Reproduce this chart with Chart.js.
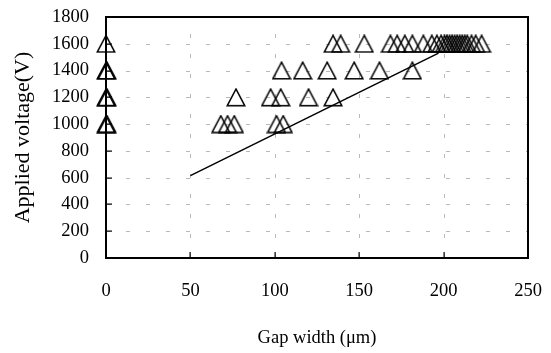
<!DOCTYPE html>
<html><head><meta charset="utf-8">
<script src="https://cdn.jsdelivr.net/npm/chart.js@4/dist/chart.umd.min.js"></script>
<style>html,body{margin:0;padding:0;background:#fff}#c{display:block}</style>
</head><body>
<canvas id="c" width="551" height="353"></canvas>
<script>
// Data
const voltageLevels = [1000, 1200, 1400, 1600];
const gap1000 = [0, 0.6, 68, 72, 76, 101, 105];
const gap1200 = [0, 0.6, 77, 97.5, 103.5, 120, 134.5];
const gap1400 = [0, 0.6, 104, 116.5, 131, 147, 162, 181.5];
const gap1600 = [0, 134.5, 139, 153, 168.5, 172.5, 177, 181.5, 188, 193, 196, 198.5, 200.5, 202, 203.5, 205, 206.5, 208, 209.5, 211, 212.5, 214, 216.5, 219, 222.5];
const fitGap = [50, 197];
const fitVoltage = [615, 1530];
const xTicks = [0, 50, 100, 150, 200, 250];
const yTicks = [0, 200, 400, 600, 800, 1000, 1200, 1400, 1600, 1800];

const rows = [gap1000, gap1200, gap1400, gap1600];
const scatterPts = [];
rows.forEach((r, i) => r.forEach(g => scatterPts.push({x: g, y: voltageLevels[i]})));
const fitPts = fitGap.map((g, i) => ({x: g, y: fitVoltage[i]}));

const tri = document.createElement('canvas');
tri.width = 20; tri.height = 19;
(function(){
  const t = tri.getContext('2d');
  t.strokeStyle = '#000'; t.lineWidth = 1.5;
  t.beginPath(); t.moveTo(10, 1.2); t.lineTo(18.8, 17.8); t.lineTo(1.2, 17.8); t.closePath(); t.stroke();
})();

const serif = "'Liberation Serif', 'Times New Roman', serif";

const grid = {
  id: 'gridDash',
  beforeDatasetsDraw(chart) {
    const {ctx, chartArea: a} = chart;
    const xs = chart.scales.x, ys = chart.scales.y;
    ctx.save();
    ctx.strokeStyle = '#b8b8b8'; ctx.lineWidth = 1; ctx.setLineDash([4, 16]);
    ctx.beginPath();
    xTicks.forEach(v => { const p = Math.round(xs.getPixelForValue(v)) + 0.5; ctx.moveTo(p, a.bottom); ctx.lineTo(p, a.top); });
    ctx.stroke();
    ctx.beginPath();
    yTicks.forEach(v => { const p = Math.round(ys.getPixelForValue(v)) + 0.5; ctx.moveTo(a.left, p); ctx.lineTo(a.right, p); });
    ctx.stroke();
    ctx.restore();
  },
  afterDraw(chart) {
    const {ctx, chartArea: a} = chart;
    const xs = chart.scales.x, ys = chart.scales.y;
    ctx.save();
    ctx.fillStyle = 'rgb(0,0,0)';
    const L = Math.round(a.left), R = Math.round(a.right), T = Math.round(a.top), B = Math.round(a.bottom);
    ctx.fillRect(L - 1, T - 1, R - L + 2, 2);
    ctx.fillRect(L - 1, B - 1, R - L + 2, 2);
    ctx.fillRect(L - 1, T - 1, 2, B - T + 2);
    ctx.fillRect(R - 1, T - 1, 2, B - T + 2);
    xTicks.forEach(v => { const p = Math.round(xs.getPixelForValue(v)); ctx.fillRect(p - 0.5, B - 6, 1.2, 6); });
    yTicks.forEach(v => { const p = Math.round(ys.getPixelForValue(v)); ctx.fillRect(L, p - 0.5, 6, 1.2); });
    ctx.restore();
  }
};

new Chart(document.getElementById('c'), {
  type: 'scatter',
  data: {
    datasets: [
      { type: 'line', data: fitPts, borderColor: '#000', borderWidth: 1.5, pointRadius: 0, fill: false, clip: false, order: 2 },
      { data: scatterPts, pointStyle: tri, pointRadius: 9, showLine: false, clip: false, order: 1 }
    ]
  },
  options: {
    responsive: false, animation: false, devicePixelRatio: 1,
    layout: { padding: { left: 5, right: 23, top: 17, bottom: 0 } },
    plugins: { legend: { display: false }, tooltip: { enabled: false } },
    scales: {
      x: {
        type: 'linear', min: 0, max: 250,
        afterBuildTicks: s => { s.ticks = xTicks.map(v => ({value: v})); },
        afterFit: s => { s.height = 95; s.paddingLeft = 0; s.paddingRight = 0; },
        grid: { display: false, drawTicks: false },
        border: { display: true, color: '#000', width: 1.5 },
        ticks: { color: '#000', font: { family: serif, size: 18.5 }, padding: 22, maxRotation: 0, callback: v => String(v) },
        title: { display: true, text: 'Gap width (μm)', color: '#000', font: { family: serif, size: 18.5 }, padding: { top: 0, bottom: 4 } }
      },
      y: {
        type: 'linear', min: 0, max: 1800,
        afterBuildTicks: s => { s.ticks = yTicks.map(v => ({value: v})); },
        afterFit: s => { s.width = 101; s.paddingTop = 0; s.paddingBottom = 0; },
        grid: { display: false, drawTicks: false },
        border: { display: true, color: '#000', width: 1.5 },
        ticks: { color: '#000', font: { family: serif, size: 18.5 }, padding: 17, callback: v => String(v) },
        title: { display: true, text: 'Applied voltage(V)', color: '#000', font: { family: serif, size: 22 }, padding: { top: 5, bottom: 0 } }
      }
    }
  },
  plugins: [grid]
});
</script>
</body></html>
